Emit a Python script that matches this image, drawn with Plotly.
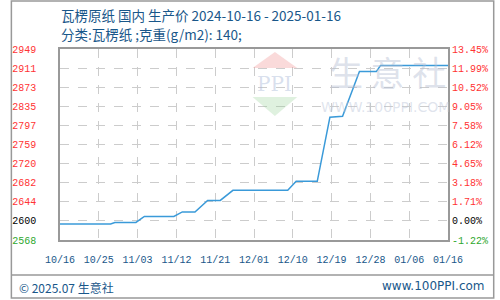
import plotly.graph_objects as go
import pandas as pd

# ---- data ----
dates = ["2024-10-16", "2024-10-28", "2024-10-29", "2024-11-03", "2024-11-05",
         "2024-11-12", "2024-11-14", "2024-11-17", "2024-11-20", "2024-11-23",
         "2024-11-26", "2024-12-09", "2024-12-11", "2024-12-16", "2024-12-19",
         "2024-12-22", "2024-12-26", "2024-12-30", "2024-12-31", "2025-01-16"]
prices = [2600, 2600, 2603, 2603, 2615,
          2615, 2624, 2624, 2647, 2647,
          2667, 2667, 2685, 2685, 2813,
          2815, 2904, 2904, 2916, 2916]

x_labels = ["10/16", "10/25", "11/03", "11/12", "11/21", "12/01",
            "12/10", "12/19", "12/28", "01/06", "01/16"]
y_labels = ["2568", "2600", "2644", "2682", "2720", "2759",
            "2797", "2835", "2873", "2911", "2949"]
pct_labels = ["-1.22%", "0.00%", "1.71%", "3.18%", "4.65%", "6.12%",
              "7.58%", "9.05%", "10.52%", "11.99%", "13.45%"]
y_min, y_max = 2568, 2949
start, end = pd.Timestamp("2024-10-16"), pd.Timestamp("2025-01-16")

title1 = "瓦楞原纸 国内 生产价 2024-10-16 - 2025-01-16"
title2 = "分类:瓦楞纸 ;克重(g/m2): 140;"

# ---- derived ticks ----
n = len(x_labels) - 1
xticks = [start + (end - start) * i / n for i in range(n + 1)]
step = (y_max - y_min) / (len(y_labels) - 1)
yticks = [y_min + step * i for i in range(len(y_labels))]


def colored(lbls):
    out = []
    for i, t in enumerate(lbls):
        c = "#2fa82f" if i == 0 else ("#000000" if i == 1 else "#ff3333")
        out.append(f'<span style="color:{c}">{t}</span>')
    return out


BLUE_TXT = "#19578a"
MONO = "Liberation Mono"
CJK = "Noto Sans CJK SC"

fig = go.Figure()
fig.add_trace(go.Scatter(x=dates, y=prices, mode="lines",
                         line=dict(color="#3a9ad9", width=1.5),
                         hoverinfo="skip", showlegend=False))
fig.add_trace(go.Scatter(x=dates, y=prices, mode="lines", yaxis="y2",
                         line=dict(color="rgba(0,0,0,0)", width=0),
                         hoverinfo="skip", showlegend=False))

axis_common = dict(showline=True, linecolor="#999999", linewidth=1.5,
                   gridcolor="#cccccc", griddash="dash", gridwidth=1,
                   ticks="", zeroline=False, fixedrange=True)

fig.update_layout(
    width=500, height=300,
    margin=dict(l=51, r=50, t=49, b=60),
    paper_bgcolor="white", plot_bgcolor="white",
    xaxis=dict(type="date", range=[start, end], tickvals=xticks,
               ticktext=x_labels, mirror=True,
               tickfont=dict(family=MONO, size=10, color=BLUE_TXT),
               ticklabelstandoff=9, **axis_common),
    yaxis=dict(range=[y_min, y_max], tickvals=yticks,
               ticktext=colored(y_labels), mirror=True,
               tickfont=dict(family=MONO, size=10),
               ticklabelstandoff=20, **axis_common),
    yaxis2=dict(range=[y_min, y_max], tickvals=yticks,
                ticktext=colored(pct_labels), overlaying="y", side="right",
                showgrid=False, showline=False, ticks="", zeroline=False,
                tickfont=dict(family=MONO, size=10), ticklabelstandoff=3,
                fixedrange=True),
)


def px2paper(px, py):
    return (px - 51) / 399.0, (240 - py) / 191.0


shapes = []
# outer frame
x0, y0 = px2paper(1, 1)
x1, y1 = px2paper(497, 298)
shapes.append(dict(type="rect", xref="paper", yref="paper", x0=x0, y0=y1,
                   x1=x1, y1=y0, line=dict(color="#999999", width=1.5),
                   layer="below"))
# footer line
fx0, fy = px2paper(1, 275)
fx1, _ = px2paper(497, 275)
shapes.append(dict(type="line", xref="paper", yref="paper", x0=fx0, y0=fy,
                   x1=fx1, y1=fy, line=dict(color="#999999", width=1.5)))


# watermark logo (decorative)
def tri(points, color):
    pts = [px2paper(a, b) for a, b in points]
    path = "M " + " L ".join(f"{a},{b}" for a, b in pts) + " Z"
    return dict(type="path", xref="paper", yref="paper", path=path,
                fillcolor=color, line=dict(width=0), layer="above")


shapes.append(tri([(272, 52), (249, 68), (295, 68)], "rgba(240,150,150,0.35)"))
shapes.append(tri([(249, 97), (295, 97), (272, 116)], "rgba(150,210,150,0.3)"))
fig.update_layout(shapes=shapes)


def note(text, px, py, size, color, family, xanchor="center"):
    xp, yp = px2paper(px, py)
    return dict(text=text, xref="paper", yref="paper", x=xp, y=yp,
                xanchor=xanchor, yanchor="middle", showarrow=False,
                font=dict(family=family, size=size, color=color))


ann = [
    note("PPI", 272, 84, 20, "rgba(170,185,215,0.45)", "DejaVu Serif"),
    note("生 意 社", 388, 71, 34, "rgba(180,190,210,0.45)", CJK),
    note("WWW.100PPI.COM", 386, 107, 14, "rgba(185,195,215,0.45)", "DejaVu Sans"),
    note(title1, 50, 15, 13.5, BLUE_TXT, CJK, "left"),
    note(title2, 50, 34, 13.5, BLUE_TXT, CJK, "left"),
    note("© 2025.07 生意社", 7, 287, 12, BLUE_TXT, CJK, "left"),
    note("www.100PPI.com", 490, 286, 12, BLUE_TXT, "DejaVu Sans", "right"),
]
fig.update_layout(annotations=ann)

fig.write_html("out.html")
